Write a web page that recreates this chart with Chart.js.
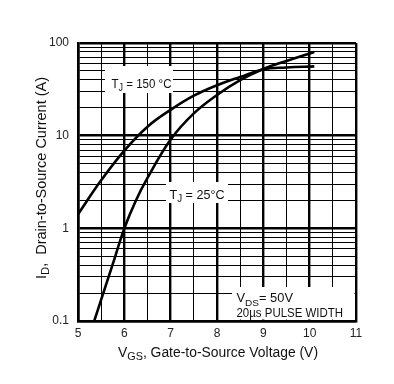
<!DOCTYPE html>
<html>
<head>
<meta charset="utf-8">
<script src="https://cdn.jsdelivr.net/npm/chart.js@4/dist/chart.umd.min.js"></script>
<style>
  html, body { margin: 0; padding: 0; background: #fff; }
  canvas { display: block; }
</style>
</head>
<body>
<canvas id="c" width="394" height="384"></canvas>
<script>
// ---- Data ----
const vgs150 = [5.0, 5.5, 6.0, 6.5, 7.0, 7.5, 8.0, 8.5, 9.0, 9.5, 10.1];
const id150  = [1.42, 3.3, 6.9, 12.5, 19, 27, 35, 43, 52, 54.5, 56];

const vgs25 = [5.35, 5.5, 5.75, 6.0, 6.25, 6.5, 7.0, 7.5, 8.0, 8.5, 9.0, 9.5, 10.1];
const id25  = [0.1, 0.17, 0.41, 1.0, 2.0, 3.5, 9.1, 17.4, 27.5, 39.8, 52.5, 64, 80];

const xGridValues = [5, 5.5, 6, 6.5, 7, 7.5, 8, 8.5, 9, 9.5, 10, 10.5, 11];
const xTickLabels = ['5', '6', '7', '8', '9', '10', '11'];
const yGridValues = [0.1, 0.2, 0.3, 0.4, 0.5, 0.6, 0.7, 0.8, 0.9,
                     1, 2, 3, 4, 5, 6, 7, 8, 9,
                     10, 20, 30, 40, 50, 60, 70, 80, 90, 100];
const yTickLabels = ['0.1', '1', '10', '100'];

const FONT = "'Liberation Sans Narrow', 'Liberation Sans', Arial, sans-serif";

const isDecade = v => Math.abs(Math.log10(v) - Math.round(Math.log10(v))) < 1e-9;

function pts(xs, ys) { return xs.map((x, i) => ({ x: x, y: ys[i] })); }

// draw rich text (with subscripts), scaled horizontally to a target width
function drawRich(ctx, parts, x, y, width, size, rotate) {
  ctx.save();
  ctx.textBaseline = 'alphabetic';
  ctx.textAlign = 'left';
  let natural = 0;
  parts.forEach(p => {
    ctx.font = (p[1] ? size * 0.78 : size) + 'px ' + FONT;
    natural += ctx.measureText(p[0]).width;
  });
  const sx = width / natural;
  ctx.translate(x, y);
  if (rotate) ctx.rotate(-Math.PI / 2);
  ctx.scale(sx, 1);
  let cx = 0;
  parts.forEach(p => {
    ctx.font = (p[1] ? size * 0.78 : size) + 'px ' + FONT;
    ctx.fillText(p[0], cx, p[1] ? size * 0.28 : 0);
    cx += ctx.measureText(p[0]).width;
  });
  ctx.restore();
}

const annotations = {
  id: 'annotations',
  beforeDatasetsDraw(chart) {
    const ctx = chart.ctx;
    ctx.save();
    ctx.fillStyle = '#fff';
    ctx.fillRect(105, 66, 68, 27);
    ctx.fillRect(166, 182, 62, 21);
    ctx.fillRect(232, 287, 122.5, 32.5);
    ctx.restore();
  },
  afterDatasetsDraw(chart) {
    const ctx = chart.ctx;
    ctx.save();
    ctx.fillStyle = '#111';
    drawRich(ctx, [['T', false], ['J', true], [' = 150 °C', false]], 111.5, 87.5, 60, 13, false);
    drawRich(ctx, [['T', false], ['J', true], [' = 25°C', false]], 169.5, 198.5, 55, 13, false);
    drawRich(ctx, [['V', false], ['DS', true], ['= 50V', false]], 236.5, 302, 56.5, 12.5, false);
    drawRich(ctx, [['20µs PULSE WIDTH', false]], 236.5, 317, 106.5, 12.5, false);
    // axis titles
    drawRich(ctx, [['I', false], ['D', true], [',  Drain-to-Source Current (A)', false]], 45.5, 279, 202, 14, true);
    drawRich(ctx, [['V', false], ['GS', true], [', Gate-to-Source Voltage (V)', false]], 118, 356.5, 200, 14, false);
    ctx.restore();
  }
};

new Chart(document.getElementById('c'), {
  type: 'line',
  data: {
    datasets: [
      { label: 'TJ = 150 °C', data: pts(vgs150, id150) },
      { label: 'TJ = 25 °C', data: pts(vgs25, id25) }
    ]
  },
  options: {
    responsive: false,
    animation: false,
    devicePixelRatio: 1,
    layout: { padding: { top: 43, right: 38, left: 0, bottom: 0 } },
    elements: {
      line: { borderColor: '#000', borderWidth: 2.6, tension: 0.4, cubicInterpolationMode: 'default', fill: false },
      point: { radius: 0, hoverRadius: 0 }
    },
    plugins: { legend: { display: false }, tooltip: { enabled: false }, title: { display: false } },
    scales: {
      x: {
        type: 'linear', min: 5, max: 11,
        afterBuildTicks: s => { s.ticks = xGridValues.map(v => ({ value: v })); },
        afterFit: s => { s.height = 63; },
        ticks: {
          autoSkip: false, maxRotation: 0, padding: 5, color: '#222',
          font: { family: FONT, size: 12 },
          callback: v => (Number.isInteger(v) ? xTickLabels[v - 5] : '')
        },
        grid: {
          color: '#000', drawTicks: false,
          lineWidth: c => (c.tick && Number.isInteger(c.tick.value) ? 2.4 : 1)
        },
        border: { display: true, color: '#000', width: 2.6 }
      },
      y: {
        type: 'logarithmic', min: 0.1, max: 100,
        afterBuildTicks: s => { s.ticks = yGridValues.map(v => ({ value: v })); },
        afterFit: s => { s.width = 78; },
        ticks: {
          autoSkip: false, padding: 9, color: '#222',
          font: { family: FONT, size: 12 },
          callback: v => (isDecade(v) ? yTickLabels[Math.round(Math.log10(v)) + 1] : '')
        },
        grid: {
          color: '#000', drawTicks: false,
          lineWidth: c => (c.tick && isDecade(c.tick.value) ? 2.4 : 1)
        },
        border: { display: true, color: '#000', width: 2.6 }
      }
    }
  },
  plugins: [annotations]
});
</script>
</body>
</html>
